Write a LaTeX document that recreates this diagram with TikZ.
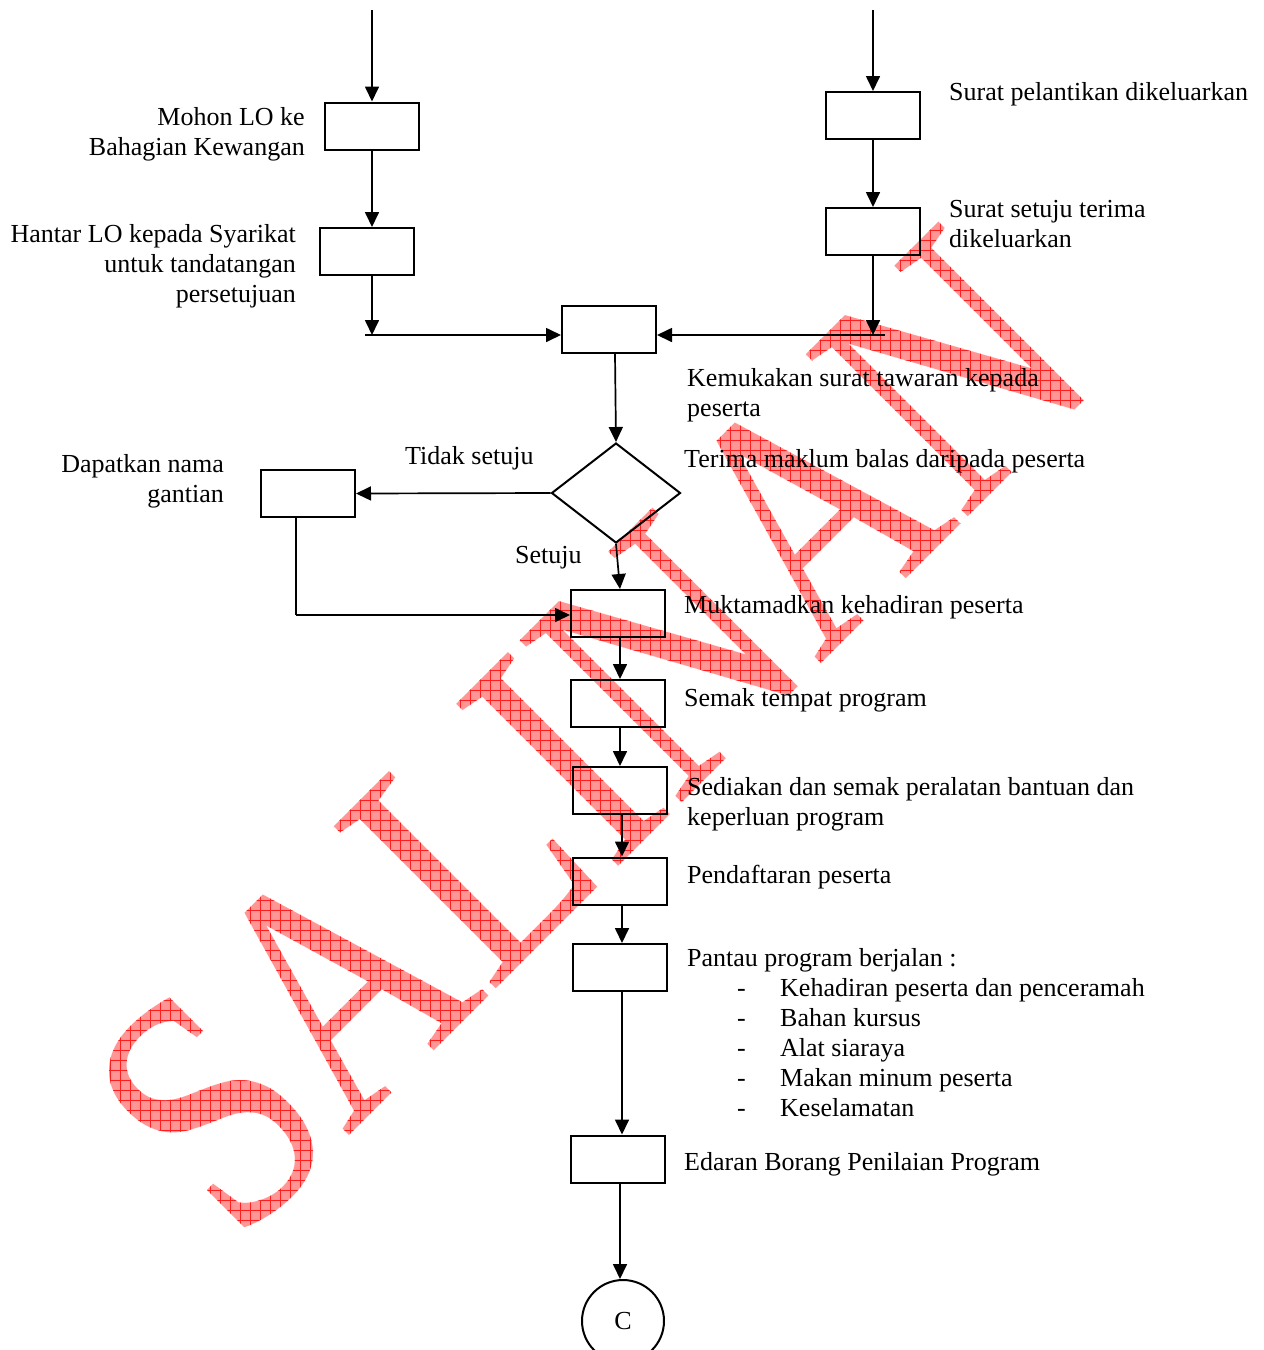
\documentclass[tikz,border=0pt]{standalone}
\usepackage{fontspec}
\setmainfont{Liberation Serif}
\usetikzlibrary{arrows.meta,shapes.geometric,fadings}
\definecolor{wmpink}{RGB}{255,150,150}
\definecolor{wmline}{RGB}{255,30,30}
\newcommand\lblL[1]{\begin{tabular}[t]{@{}l@{}}#1\end{tabular}}
\newcommand\lblR[1]{\begin{tabular}[t]{@{}r@{}}#1\end{tabular}}
\newcommand\itm[1]{\makebox[93pt][l]{\hspace{50pt}-}#1}
\begin{tikzfadingfrompicture}[name=wmfade]
  \path (-632pt,-675pt) rectangle (632pt,675pt);
  \node[inner sep=0pt,anchor=base,rotate=45,xscale=0.8,text=transparent!0,
        font=\fontsize{350}{350}\selectfont] (wmtext) at (39.5pt,-138.5pt) {SALINAN};
\end{tikzfadingfrompicture}
\begin{document}
\begin{tikzpicture}[x=1pt,y=-1pt,
  box/.style={draw,line width=2pt,minimum width=94pt,minimum height=47pt,inner sep=0pt},
  arr/.style={line width=1.7pt,-{Triangle[length=15pt,width=14pt]}},
  ln/.style={line width=1.7pt},
  wmfill/.style={path fading=wmfade,fit fading=false,fading transform={shift={(632,675)}}},
  txt/.style={inner sep=0pt,font=\fontsize{26}{30}\selectfont}]
\useasboundingbox (0,0) rectangle (1264,1350);
% watermark
\fill[wmpink,wmfill] (0,0) rectangle (1264,1350);
\draw[wmline,line width=0.9pt,wmfill,step=10pt] (0,0) grid (1264,1350);
% boxes
\node[box] (b1) at (371.5,126) {};
\node[box] (b2) at (367,251.5) {};
\node[box] (r1) at (873,115.5) {};
\node[box] (r2) at (873,231.5) {};
\node[box] (b3) at (609,329.5) {};
\node[diamond,draw,line width=2pt,inner sep=0pt,minimum width=129pt,minimum height=100pt] (d) at (616,493) {};
\node[box] (bl) at (308,493.5) {};
\node[box] (m) at (618,613.5) {};
\node[box] (s) at (618,703.5) {};
\node[box] (sed) at (620,790.5) {};
\node[box] (p) at (620,881) {};
\node[box] (pan) at (620,967.5) {};
\node[box] (ed) at (618,1159) {};
\node[circle,draw,line width=2pt,minimum size=82pt,inner sep=0pt,font=\fontsize{26}{30}\selectfont] (c) at (623,1321) {C};
% coordinates
\coordinate (t1) at (372,10);
\coordinate (t2) at (873,10);
\coordinate (jl) at (372,335);
\coordinate (jls) at (365,335);
\coordinate (jr) at (873,335);
\coordinate (jre) at (885,335);
\coordinate (k) at (296,615);
\coordinate (dc) at (615,0);
\coordinate (mc) at (620,0);
\coordinate (pc) at (622,0);
% connectors
\draw[arr] (t1) -- (t1 |- b1.north);
\draw[arr] (t1 |- b1.south) -- (t1 |- b2.north);
\draw[arr] (t1 |- b2.south) -- (jl);
\draw[arr] (jls) -- (b3.west |- jl);
\draw[arr] (t2) -- (r1.north);
\draw[arr] (r1.south) -- (r2.north);
\draw[arr] (r2.south) -- (jr);
\draw[arr] (jre) -- (b3.east |- jr);
\draw[arr] (dc |- b3.south) -- (d.north);
\draw[arr] (d.west) -- (bl.east);
\draw[arr] (d.south) -- (mc |- m.north);
\draw[ln] (k |- bl.south) -- (k);
\draw[arr] (k) -- (m.west |- k);
\draw[arr] (mc |- m.south) -- (mc |- s.north);
\draw[arr] (mc |- s.south) -- (mc |- sed.north);
\draw[arr] (pc |- sed.south) -- (pc |- p.north);
\draw[arr] (pc |- p.south) -- (pc |- pan.north);
\draw[arr] (pc |- pan.south) -- (pc |- ed.north);
\draw[arr] (mc |- ed.south) -- (mc |- c.north);
% labels
\node[txt,anchor=base east] (l1) at (305,125) {\lblR{Mohon LO ke\\Bahagian Kewangan}};
\node[txt,anchor=base east] (l2) at (296,242) {\lblR{Hantar LO kepada Syarikat\\untuk tandatangan\\persetujuan}};
\node[txt,anchor=base west] (l3) at (949,100) {Surat pelantikan dikeluarkan};
\node[txt,anchor=base west] (l4) at (949,217) {\lblL{Surat setuju terima\\dikeluarkan}};
\node[txt,anchor=base west] (l5) at (687,386) {\lblL{Kemukakan surat tawaran kepada\\peserta}};
\node[txt,anchor=base west] (l6) at (405,464) {Tidak setuju};
\node[txt,anchor=base west] (l7) at (684,467) {Terima maklum balas daripada peserta};
\node[txt,anchor=base east] (l8) at (224,472) {\lblR{Dapatkan nama\\gantian}};
\node[txt,anchor=base west] (l9) at (515,563) {Setuju};
\node[txt,anchor=base west] (l10) at (684,613) {Muktamadkan kehadiran peserta};
\node[txt,anchor=base west] (l11) at (684,706) {Semak tempat program};
\node[txt,anchor=base west] (l12) at (687,795) {\lblL{Sediakan dan semak peralatan bantuan dan\\keperluan program}};
\node[txt,anchor=base west] (l13) at (687,883) {Pendaftaran peserta};
\node[txt,anchor=base west] (l14) at (687,966) {\lblL{Pantau program berjalan :\\
  \itm{Kehadiran peserta dan penceramah}\\
  \itm{Bahan kursus}\\
  \itm{Alat siaraya}\\
  \itm{Makan minum peserta}\\
  \itm{Keselamatan}}};
\node[txt,anchor=base west] (l15) at (684,1170) {Edaran Borang Penilaian Program};
\end{tikzpicture}
\end{document}
